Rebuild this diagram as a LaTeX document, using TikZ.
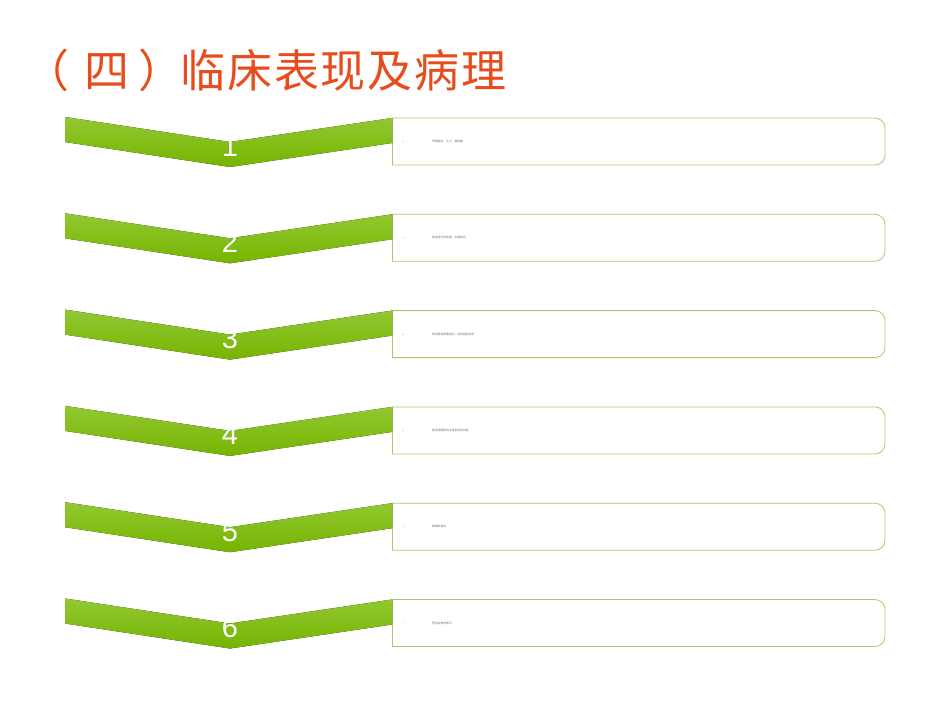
\documentclass[tikz,border=0pt]{standalone}
\usepackage{fontspec}
\setmainfont{Liberation Sans}
\newfontfamily\cjk{Noto Sans CJK SC}
\definecolor{titlered}{RGB}{232,76,28}
\definecolor{gtop}{RGB}{146,200,50}
\definecolor{gbot}{RGB}{118,180,0}
\definecolor{boxgreen}{RGB}{170,202,105}
\definecolor{smallgray}{RGB}{110,110,110}
\tikzset{
  chev/.style={top color=gtop,bottom color=gbot,draw=none},
  boxline/.style={draw=boxgreen,line width=0.8pt},
  numtxt/.style={text=white,font=\fontsize{29}{29}\selectfont,anchor=base,inner sep=0pt},
  smalltxt/.style={text=smallgray,font=\cjk\fontsize{2.8}{3}\selectfont,anchor=west,inner sep=0pt},
  titletxt/.style={text=titlered,font=\cjk\fontsize{45}{50}\selectfont,anchor=base,inner sep=0pt}
}
\begin{document}
\begin{tikzpicture}[x=1pt,y=-1pt]
\useasboundingbox[fill=white] (0,0) rectangle (950,713);
\node[titletxt,anchor=base west] (c0) at (24,87) {（};
\node[titletxt] (c1) at (107,87) {四};
\node[titletxt,anchor=base west] (c2) at (138,87) {）};
\node[titletxt] (c3) at (203,87) {临};
\node[titletxt] (c4) at (250,87) {床};
\node[titletxt] (c5) at (297,87) {表};
\node[titletxt] (c6) at (343,87) {现};
\node[titletxt] (c7) at (390,87) {及};
\node[titletxt] (c8) at (437,87) {病};
\node[titletxt] (c9) at (484,87) {理};
\foreach \i/\t in {1/早期症状，乏力，食欲差,2/病变进行性加重，中期症状,3/病变累及周围组织，出现相应症状,4/病变进展影响全身各系统功能,5/晚期并发症,6/预后及转归情况}{
  \pgfmathsetmacro{\yo}{118+96.3*(\i-1)}
  \draw[boxline,rounded corners=10pt] (392,\yo) -- (885,\yo) -- (885,\yo+47) -- (392,\yo+47);
  \draw[boxline] (392,\yo) -- (392,\yo+47);
  \fill[chev] (65,\yo-1) -- (230,\yo+24) -- (392,\yo) -- (392,\yo+25) -- (230,\yo+49) -- (65,\yo+24) -- cycle;
  \node[numtxt] (n\i) at (230,\yo+38) {\i};
  \fill[smallgray] (403,\yo+23.5) circle (0.4);
  \node[smalltxt] (t\i) at (432,\yo+23.5) {\t};
}
\end{tikzpicture}
\end{document}
